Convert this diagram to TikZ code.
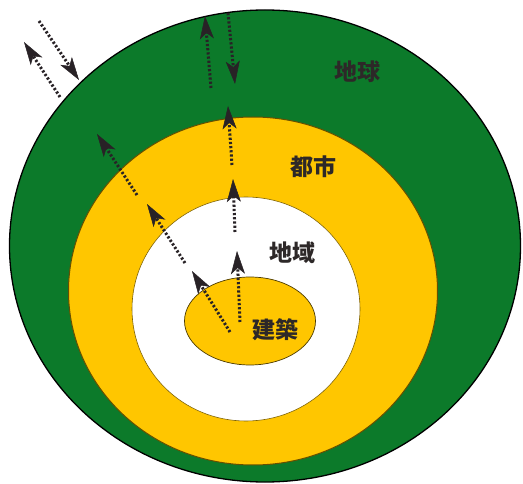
\documentclass[tikz,border=0pt]{standalone}
\usepackage{fontspec}
\newfontfamily\cjk{Noto Sans CJK JP}
\usetikzlibrary{shapes.geometric,arrows.meta}
\definecolor{earthgreen}{RGB}{12,122,42}
\definecolor{cityyellow}{RGB}{255,198,0}
\definecolor{arrowdark}{RGB}{40,34,38}
\definecolor{labeldark}{RGB}{45,40,40}
\begin{document}
\begin{tikzpicture}[x=1pt,y=-1pt,
  ring/.style={ellipse, draw, inner sep=0pt, line width=1pt},
  lbl/.style={font=\cjk\bfseries\fontsize{23}{23}\selectfont, text=labeldark, inner sep=0pt},
  flow/.style={draw=arrowdark, line width=3pt, dash pattern=on 2.2pt off 2pt,
    -{Stealth[length=23pt,width=14pt,inset=6pt,fill=arrowdark,line width=0.5pt]}}]
\useasboundingbox (0,0) rectangle (523,484);
\fill[white] (0,0) rectangle (523,484);
\node[ring, draw=black, line width=1.3pt, fill=earthgreen, minimum width=511pt, minimum height=472pt] (earth) at (265,246) {};
\node[ring, draw=black!60!cityyellow, fill=cityyellow, minimum width=369pt, minimum height=348pt] (city) at (253,291) {};
\node[ring, draw=black!50!cityyellow, line width=0.6pt, fill=white, minimum width=228pt, minimum height=224pt] (region) at (246,309) {};
\node[ring, draw=black!70!cityyellow, line width=0.7pt, fill=cityyellow, minimum width=131pt, minimum height=88pt] (bldg) at (250,321) {};
\node[lbl] (tEarth) at (357,72) {地球};
\node[lbl] (tCity) at (313,167) {都市};
\node[lbl] (tRegion) at (292,253) {地域};
\node[lbl] (tBldg) at (275,330) {建築};
% arrow end points
\coordinate (a1) at (60,97);  \coordinate (a2) at (24,42);
\coordinate (b1) at (39,21);  \coordinate (b2) at (79,80);
\coordinate (c1) at (211,88); \coordinate (c2) at (205,16);
\coordinate (d1) at (228,13); \coordinate (d2) at (235,84);
\coordinate (e1) at (232,165);\coordinate (e2) at (228,106);
\coordinate (f1) at (137,195);\coordinate (f2) at (97,134);
\coordinate (g1) at (235,232);\coordinate (g2) at (233,179);
\coordinate (h1) at (185,263);\coordinate (h2) at (147,204);
\coordinate (i1) at (230,332);\coordinate (i2) at (192,271);
\coordinate (j1) at (240,322);\coordinate (j2) at (237,251);
\foreach \s/\t in {a1/a2,b1/b2,c1/c2,d1/d2,e1/e2,f1/f2,g1/g2,h1/h2,i1/i2,j1/j2}
  \draw[flow] (\s) -- (\t);
\end{tikzpicture}
\end{document}
